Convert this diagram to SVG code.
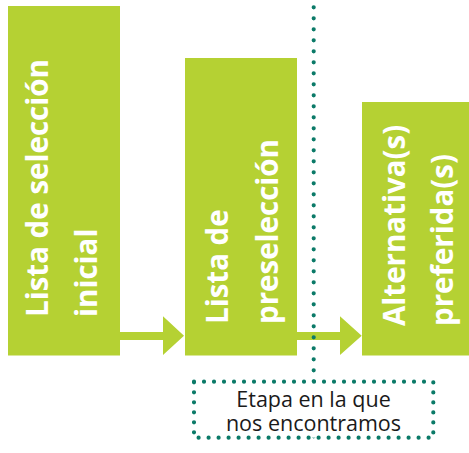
<svg xmlns="http://www.w3.org/2000/svg" width="469" height="453" viewBox="0 0 469 453">
<style>
.box{fill:#b5d133}
.arrow{fill:#b5d133}
.lbl{font-family:"Open Sans","Liberation Sans",sans-serif;font-weight:bold;font-size:29.5px;fill:#ffffff}
.dots{fill:none;stroke:#0b7a68;stroke-width:4.2;stroke-linecap:round;stroke-dasharray:0 11}
.frame{fill:#ffffff;stroke:#0b7a68;stroke-width:4.2;stroke-linecap:round;stroke-dasharray:0 10}
.note{font-family:"Open Sans","Liberation Sans",sans-serif;font-size:21.5px;fill:#1a1a1a;text-anchor:middle}
</style>
<rect width="469" height="453" fill="#ffffff"/>
<g id="node-lista-seleccion">
<rect class="box" x="8" y="6" width="112" height="349.5"/>
<text class="lbl" transform="translate(48,317) rotate(-90)">Lista de selección</text>
<text class="lbl" transform="translate(97,317) rotate(-90)">inicial</text>
</g>
<g id="node-preseleccion">
<rect class="box" x="185" y="58" width="112" height="297.5"/>
<text class="lbl" transform="translate(228,324) rotate(-90)">Lista de</text>
<text class="lbl" transform="translate(278,324) rotate(-90)">preselección</text>
</g>
<g id="node-alternativas">
<rect class="box" x="362" y="102" width="112" height="253.5"/>
<text class="lbl" transform="translate(405,326) rotate(-90)">Alternativa(s)</text>
<text class="lbl" transform="translate(453,326) rotate(-90)">preferida(s)</text>
</g>
<g id="connectors">
<polygon class="arrow" points="120,332 163,332 163,316.3 184,335.8 163,355 163,340 120,340"/>
<polygon class="arrow" points="297,332 340,332 340,316.3 361.7,335.8 340,355 340,340 297,340"/>
<line class="dots" x1="313.7" y1="7.3" x2="313.7" y2="447.3"/>
</g>
<g id="note-etapa">
<rect class="frame" x="194" y="381.7" width="239.3" height="56"/>
<text class="note" x="313.5" y="406.7">Etapa en la que</text>
<text class="note" x="313.5" y="430.5">nos encontramos</text>
</g>
</svg>
